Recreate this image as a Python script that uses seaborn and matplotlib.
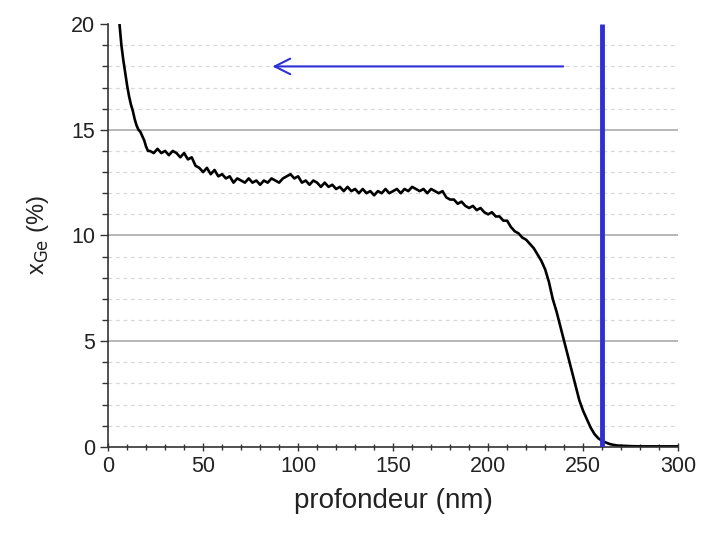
import matplotlib
matplotlib.use("Agg")
import matplotlib.pyplot as plt
import seaborn as sns
import pandas as pd
from matplotlib.ticker import MultipleLocator

sns.set_style("white")
plt.rcParams['font.family'] = ['Liberation Sans', 'DejaVu Sans']

# depth profile (nm, % Ge)
depth = [6, 7, 8, 9, 10, 11, 12, 13, 14, 15, 16, 17, 18, 19, 20, 21,
         22, 24, 26, 28, 30, 32, 34, 36, 38, 40, 42, 44, 46, 48, 50,
         52, 54, 56, 58, 60, 62, 64, 66, 68, 70, 72, 74, 76, 78, 80,
         82, 84, 86, 88, 90, 92, 94, 96, 98, 100, 102, 104, 106, 108, 110,
         112, 114, 116, 118, 120, 122, 124, 126, 128, 130, 132, 134, 136, 138, 140,
         142, 144, 146, 148, 150, 152, 154, 156, 158, 160, 162, 164, 166, 168, 170,
         172, 174, 176, 178, 180, 182, 184, 186, 188, 190, 192, 194, 196, 198, 200,
         202, 204, 206, 208, 210, 212, 214, 216, 218, 220,
         222, 224, 226, 228, 230, 232, 234, 236, 238, 240, 242, 244, 246, 248, 250,
         252, 254, 256, 258, 260, 262, 264, 266, 268, 270,
         275, 280, 285, 290, 295, 300]
xge = [20.0, 19.0, 18.3, 17.7, 17.1, 16.6, 16.2, 15.9, 15.5, 15.2, 15.0, 14.9, 14.7, 14.5, 14.2, 14.0,
       14.0, 13.9, 14.1, 13.9, 14.0, 13.8, 14.0, 13.9, 13.7, 13.9, 13.6, 13.7, 13.3, 13.2, 13.0,
       13.2, 12.9, 13.1, 12.8, 12.9, 12.7, 12.8, 12.5, 12.7, 12.6, 12.5, 12.7, 12.5, 12.6, 12.4,
       12.6, 12.5, 12.7, 12.6, 12.5, 12.7, 12.8, 12.9, 12.7, 12.8, 12.5, 12.6, 12.4, 12.6, 12.5,
       12.3, 12.5, 12.3, 12.4, 12.2, 12.3, 12.1, 12.3, 12.1, 12.2, 12.0, 12.2, 12.0, 12.1, 11.9,
       12.1, 12.0, 12.2, 12.0, 12.1, 12.2, 12.0, 12.2, 12.1, 12.3, 12.2, 12.1, 12.2, 12.0, 12.2,
       12.1, 12.0, 12.1, 11.8, 11.7, 11.7, 11.5, 11.6, 11.4, 11.3, 11.4, 11.2, 11.3, 11.1, 11.0,
       11.1, 10.9, 10.9, 10.7, 10.7, 10.4, 10.2, 10.1, 9.9, 9.8,
       9.6, 9.4, 9.1, 8.8, 8.4, 7.8, 7.0, 6.4, 5.7, 5.0, 4.3, 3.6, 2.9, 2.2, 1.7,
       1.3, 0.9, 0.6, 0.4, 0.28, 0.2, 0.13, 0.09, 0.06, 0.05,
       0.03, 0.02, 0.02, 0.02, 0.02, 0.02]

interface_depth = 260
arrow_from = 241
arrow_to = 85
arrow_level = 18

df = pd.DataFrame({'profondeur': depth, 'xge': xge})

fig = plt.figure(figsize=(7.02, 5.37), dpi=100)
ax = fig.add_axes([0.154, 0.168, 0.812, 0.787])

# grille : pointillés à chaque unité, traits pleins tous les 5
for v in range(1, 20):
    if v % 5 == 0:
        ax.axhline(v, color='#aaaaaa', lw=1.2, zorder=0)
    else:
        ax.axhline(v, color='#d8d8d8', lw=0.9, ls=(0, (3, 3)), zorder=0)

sns.lineplot(data=df, x='profondeur', y='xge', color='black', lw=1.9, ax=ax)

ax.vlines(interface_depth, 0, 20, color='#2f2fd6', lw=3.5, zorder=3)
ax.annotate('', xy=(arrow_to, arrow_level), xytext=(arrow_from, arrow_level),
            arrowprops=dict(arrowstyle='->', color='#2f2fd6', lw=1.5, mutation_scale=28))

ax.set_xlim(0, 300)
ax.set_ylim(0, 20)
ax.xaxis.set_major_locator(MultipleLocator(50))
ax.xaxis.set_minor_locator(MultipleLocator(10))
ax.yaxis.set_major_locator(MultipleLocator(5))
ax.yaxis.set_minor_locator(MultipleLocator(1))

ax.tick_params(axis='both', which='major', labelsize=15.5, length=6, width=1,
               color='#333333', labelcolor='#222222')
ax.tick_params(axis='both', which='minor', length=4, width=1, color='#333333')
ax.tick_params(axis='x', which='both', direction='inout', bottom=True)
ax.tick_params(axis='y', which='both', direction='out', left=True)

for side in ['top', 'right']:
    ax.spines[side].set_visible(False)
for side in ['left', 'bottom']:
    ax.spines[side].set_color('#333333')
    ax.spines[side].set_linewidth(1.2)

ax.set_xlabel('profondeur (nm)', fontsize=20, labelpad=8, color='#222222')
ax.set_ylabel(r'x$_{\mathrm{Ge}}$ (%)', fontsize=17, labelpad=14, color='#222222')

fig.savefig('out.png', dpi=100)
